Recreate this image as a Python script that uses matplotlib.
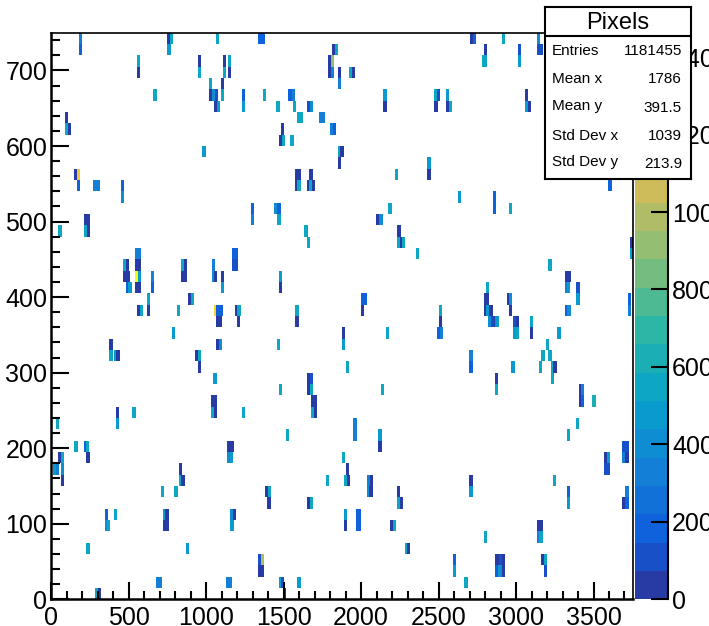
import numpy as np
import matplotlib
matplotlib.use('Agg')
import matplotlib.pyplot as plt
from matplotlib.colors import LinearSegmentedColormap, ListedColormap, BoundaryNorm

plt.rcParams['font.family'] = ['Liberation Sans', 'DejaVu Sans']

# hits, one entry per y bin (bin height 15)
y_bins = list(range(49, -1, -1))
x_rows = [
    [179, 750, 767, 1064, 1335, 1356, 2700, 2719, 2908, 3134],
    [179, 750, 1813, 1832, 2790, 3014, 3134, 3151],
    [554, 945, 1109, 1139, 1788, 1806, 2777, 2794, 3014],
    [554, 945, 1109, 1139, 1788, 1806, 1848, 1921, 1938],
    [1019, 1094, 1848],
    [659, 1019, 1038, 1056, 1094, 1228, 1365, 1531, 1552, 2144, 2473, 2490, 2549, 3059],
    [1049, 1068, 1228, 1453, 1559, 1649, 1667, 2144, 2473, 2549, 2566, 3059, 3074],
    [89, 1589, 1606, 1725, 1744],
    [89, 108, 1484, 1800, 1817],
    [1469, 1487, 1544],
    [976, 1848, 1866],
    [1848, 2428],
    [149, 165, 1574, 1593, 1666, 2220, 2428],
    [165, 272, 291, 450, 1574, 1589, 1649, 1666, 1681, 3596],
    [450, 2624, 2848],
    [1290, 1440, 1460, 2176, 2848, 2953],
    [210, 229, 1290, 1460, 2099, 2118],
    [46, 210, 229, 1634, 2234],
    [1649, 2234, 2252, 2265, 3733],
    [541, 558, 1169, 1186, 2355, 3733],
    [466, 483, 541, 558, 840, 855, 1036, 1169, 1186, 3209],
    [466, 485, 541, 558, 644, 840, 857, 1036, 1051, 1094, 1468, 3315, 3332],
    [483, 498, 541, 558, 644, 1094, 1468, 2805, 3315, 3330, 3390],
    [616, 885, 900, 2000, 2015, 2790, 2807, 2941, 2956, 3390, 3720],
    [556, 571, 616, 810, 1051, 1066, 1085, 1186, 1201, 1576, 2000, 2504, 2790, 2807, 2828, 2956, 3315, 3332, 3720],
    [1066, 1083, 1199, 1576, 2504, 2822, 2837, 2858, 2867, 2983, 3000, 3091],
    [780, 1875, 2159, 2491, 2506, 2983, 3000, 3091, 3267],
    [375, 1066, 1083, 1456, 1875, 3194],
    [375, 405, 420, 928, 948, 2699, 3164, 3209],
    [946, 1903, 2699, 2970, 3149, 3224, 3241],
    [1047, 1649, 1667, 2863, 3224],
    [1468, 1649, 1667, 2129, 2863, 3405, 3420],
    [1034, 1051, 1679, 1697, 3405, 3420, 3493],
    [418, 524, 1034, 1051, 1230, 1679, 1697],
    [29, 418, 1950, 3388],
    [1514, 1950, 2112, 3328],
    [149, 210, 225, 1137, 1156, 2112, 3687, 3707],
    [46, 61, 227, 1137, 1154, 1875, 3569, 3584, 3687, 3705],
    [14, 31, 61, 825, 1903, 3569, 3584],
    [61, 825, 840, 1770, 1890, 1908, 2039, 2056, 2699, 3238],
    [705, 795, 1380, 1397, 2039, 2054, 2232, 2699, 3328, 3705],
    [1395, 1649, 1667, 2232, 2252, 3328, 3687, 3705],
    [345, 405, 720, 737, 1156, 1171, 1890, 1964, 1981],
    [345, 360, 720, 737, 1156, 1890, 1964, 1981, 2189, 2207, 3134, 3151],
    [2790, 3134, 3151],
    [227, 870, 2280, 2295],
    [1337, 1355, 2594, 2865, 2882, 2893, 2910, 3164, 3179],
    [1337, 1352, 2594, 2865, 2882, 2897, 2910, 3179],
    [676, 693, 1126, 1143, 1468, 1484, 1589, 2667],
    [285, 300, 1494],
]
z_rows = [
    [330, 35, 560, 560, 180, 180, 35, 180, 560, 400],
    [180, 480, 35, 560, 35, 110, 110, 110],
    [560, 35, 35, 560, 35, 880, 560, 560, 480],
    [35, 560, 560, 35, 35, 330, 35, 560, 35],
    [560, 35, 330],
    [560, 35, 400, 110, 560, 180, 560, 180, 330, 480, 560, 110, 480, 35],
    [35, 480, 480, 560, 560, 110, 400, 35, 35, 35, 560, 480, 35],
    [35, 560, 560, 330, 330],
    [560, 35, 35, 330, 180],
    [35, 560, 560],
    [480, 560, 35],
    [35, 480],
    [35, 1200, 35, 35, 35, 560, 35],
    [180, 330, 330, 180, 35, 560, 35, 560, 35, 180],
    [400, 480, 180],
    [180, 400, 180, 560, 180, 560],
    [35, 35, 330, 560, 35, 400],
    [560, 560, 35, 560, 35],
    [560, 560, 35, 560, 35],
    [330, 330, 180, 180, 560, 480],
    [560, 35, 35, 35, 560, 35, 330, 110, 110, 560],
    [35, 35, 1450, 480, 330, 35, 35, 400, 35, 35, 480, 35, 35],
    [180, 480, 35, 35, 180, 480, 35, 560, 330, 480, 110],
    [560, 35, 560, 180, 180, 35, 35, 35, 400, 480, 180],
    [35, 560, 35, 560, 1300, 180, 180, 35, 560, 560, 35, 560, 35, 480, 35, 35, 180, 400, 330],
    [35, 35, 35, 35, 35, 400, 110, 35, 480, 110, 35, 560],
    [480, 35, 560, 180, 330, 480, 560, 35, 480],
    [35, 35, 400, 560, 480, 560],
    [560, 480, 35, 35, 560, 330, 560, 560],
    [35, 560, 180, 480, 560, 560, 35],
    [480, 35, 110, 35, 560],
    [560, 35, 560, 560, 560, 35, 330],
    [35, 35, 35, 35, 35, 180, 620],
    [35, 560, 560, 35, 560, 560, 35],
    [560, 480, 330, 560],
    [560, 330, 480, 560],
    [560, 180, 560, 35, 35, 35, 110, 110],
    [35, 560, 35, 400, 480, 560, 35, 480, 330, 35],
    [480, 330, 400, 35, 35, 110, 110],
    [35, 560, 35, 560, 560, 35, 330, 35, 35, 560],
    [560, 560, 35, 560, 400, 35, 35, 480, 180, 330],
    [35, 35, 560, 560, 35, 480, 35, 180],
    [180, 560, 480, 35, 400, 35, 480, 180, 180],
    [400, 560, 35, 35, 480, 35, 180, 180, 35, 560, 35, 35],
    [560, 330, 560],
    [560, 480, 560, 35],
    [110, 1020, 180, 35, 35, 110, 35, 35, 560],
    [35, 35, 480, 180, 480, 400, 35, 110],
    [330, 330, 330, 330, 480, 110, 480, 560],
    [560, 35, 35],
]
bin_height = 15
bin_width = 21
z_max = 1463

# ROOT kBird palette, 20 contour levels
bird = [(0.2082, 0.1664, 0.5293), (0.0592, 0.3599, 0.8684), (0.0780, 0.5041, 0.8385),
        (0.0232, 0.6419, 0.7914), (0.1802, 0.7178, 0.6425), (0.5301, 0.7492, 0.4662),
        (0.8186, 0.7328, 0.3499), (0.9956, 0.7862, 0.1968), (0.9764, 0.9832, 0.0539)]
bird_map = LinearSegmentedColormap.from_list('bird', bird, N=256)
n_levels = 20
cmap = ListedColormap([bird_map((i + 0.9) / n_levels) for i in range(n_levels)])
levels = np.linspace(0, z_max, n_levels + 1)
norm = BoundaryNorm(levels, n_levels)

W, H = 709, 626
fig = plt.figure(figsize=(W / 100, H / 100), dpi=100)


def px_axes(x0, y0, x1, y1):
    return fig.add_axes([x0 / W, 1 - y1 / H, (x1 - x0) / W, (y1 - y0) / H])


ax = px_axes(51.3, 32.7, 632.7, 599.3)
for row, xs, zs in zip(y_bins, x_rows, z_rows):
    ax.bar(xs, bin_height, width=bin_width, bottom=row * bin_height, align='edge',
           color=cmap(norm(zs)), linewidth=0)
ax.set_xlim(0, 3753)
ax.set_ylim(0, 750)
ax.set_xticks(np.arange(0, 3501, 500))
ax.set_xticks(np.arange(0, 3701, 100), minor=True)
ax.set_yticks(np.arange(0, 701, 100))
ax.set_yticks(np.arange(0, 741, 20), minor=True)
ax.tick_params(axis='x', which='major', direction='in', length=12, width=1.5, labelsize=18, pad=4.8)
ax.tick_params(axis='x', which='minor', direction='in', length=6, width=1.5)
ax.tick_params(axis='y', which='major', direction='in', length=13, width=1.5, labelsize=18, pad=3)
ax.tick_params(axis='y', which='minor', direction='in', length=6.5, width=1.5)
for name in ['left', 'bottom']:
    ax.spines[name].set_linewidth(1.8)
for name in ['top', 'right']:
    ax.spines[name].set_linewidth(1.2)

# colour scale
cax = px_axes(635.3, 32.7, 668, 599.3)
cax.pcolormesh([0, 1], levels, (levels[:-1, None] + levels[1:, None]) / 2, cmap=cmap, norm=norm)
cax.set_xlim(0, 1)
cax.set_ylim(0, z_max)
cax.set_xticks([])
cax.yaxis.tick_right()
cax.set_yticks(np.arange(0, 1401, 200))
cax.tick_params(direction='in', length=12.5, width=1.5, labelsize=18, pad=3)
for name in ['left', 'top', 'bottom']:
    cax.spines[name].set_visible(False)
cax.spines['right'].set_linewidth(1.5)

# stats box
stats_names = ['Entries', 'Mean x', 'Mean y', 'Std Dev x', 'Std Dev y']
stats_values = ['1181455', '1786', '391.5', '1039', '213.9']
stats_y = [51, 79, 106, 135.5, 162]
stats_value_y = [51, 79, 108, 135.5, 164]
box = px_axes(545, 7, 691, 179)
box.set_zorder(5)
box.set_xlim(545, 691)
box.set_ylim(179, 7)
box.set_xticks([])
box.set_yticks([])
for s in box.spines.values():
    s.set_linewidth(1.5)
box.axhline(36, color='black', linewidth=1.5)
box.text(618, 23, 'Pixels', ha='center', va='center', fontsize=17)
for name, value, y, vy in zip(stats_names, stats_values, stats_y, stats_value_y):
    box.text(552, y, name, ha='left', va='center', fontsize=11)
    box.text(682, vy, value, ha='right', va='center', fontsize=11)

fig.savefig('out.png', dpi=100)
